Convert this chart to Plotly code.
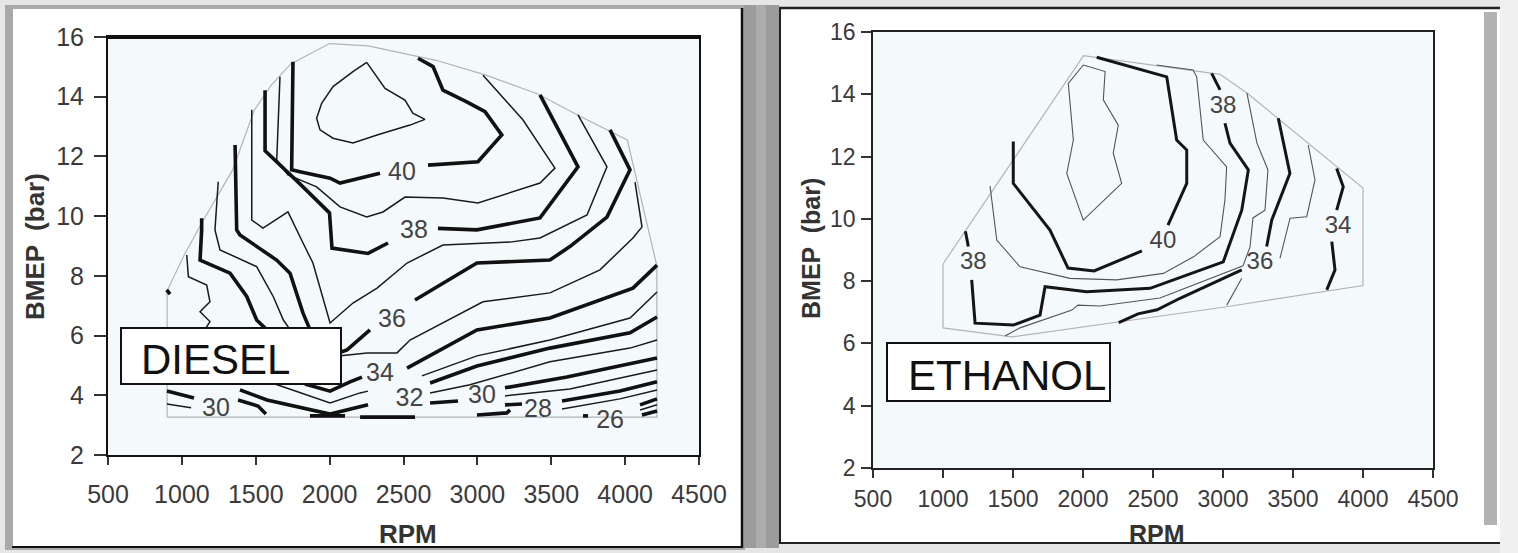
import plotly.graph_objects as go

W, H = 1518, 553
def px(x): return x / W
def py(y): return 1 - y / H

FONT = "Liberation Sans, Arial, sans-serif"

# ---------------- DIESEL (left) : contour polylines, (rpm, bmep) ----------------
diesel_envelope = [(900,3.27),(900,7.50),(1015,8.69),(1146,9.87),(1343,11.54),(1491,13.56),(1605,14.39),
                   (1737,15.10),(1999,15.78),(2261,15.70),(2720,15.22),(3048,14.74),(3409,14.09),(3704,13.32),
                   (4015,12.55),(4130,10.11),(4215,8.33),(4215,3.27),(900,3.27)]
d41 = [(2251,15.15),(2375,14.28),(2510,13.89),(2563,13.45),(2645,13.24),(2544,13.05),(2321,12.72),(2158,12.45),
       (2023,12.61),(1935,12.89),(1912,13.28),(1946,13.78),(2023,14.34),(2158,14.84),(2251,15.15)]
d40 = [(1752,15.17),(1743,11.55),(1799,11.49),(2003,11.27),(2070,11.11),(2341,11.44),None,
       (2666,11.71),(3004,11.82),(3165,12.72),(3052,13.50),(2928,13.83),(2767,14.22),(2700,15.01),(2598,15.29)]
d39 = [(1664,14.67),(1642,11.88),(1718,11.38),(1912,10.98),(2070,10.31),(2251,9.97),(2361,10.14),(2510,10.64),
       (2767,10.61),(3004,10.44),(3424,11.11),(3525,11.61),(3309,13.22),(3038,14.72)]
d38 = [(1563,14.22),(1563,12.19),(1799,11.08),(1999,10.11),(2016,8.93),(2260,8.75),(2395,9.10),None,
       (2733,9.59),(2997,9.54),(3424,9.94),(3681,11.65),(3424,14.06)]
d37 = [(1473,13.56),(1473,9.87),(1549,9.60),(1718,10.14),(1820,9.10),(1887,8.43),(2003,6.42),(2158,7.09),
       (2321,7.59),(2524,8.43),(2767,9.03),(3221,9.13),(3424,9.27),(3742,10.04),(3877,11.65),(3681,13.39)]
d36 = [(1360,12.38),(1371,9.54),(1393,9.37),(1641,8.53),(1732,8.09),(1820,6.75),(1867,6.20),None,
       (2077,5.45),(2118,5.52),(2273,6.19),None,
       (2578,7.19),(2997,8.43),(3491,8.53),(3626,8.98),(3877,9.97),(4033,11.55),(3898,12.89)]
d35 = [(1246,11.15),(1224,9.54),(1258,8.87),(1506,8.31),(1619,7.30),(1687,6.52),(1732,6.20),None,
       (2077,5.32),(2253,5.42),(2456,5.42),(2544,5.85),(3038,7.13),(3491,7.43),(3830,8.20),(4053,9.27),
       (4114,9.64),(4067,11.14)]
d34 = [(1134,9.93),(1134,9.54),(1123,8.53),(1326,8.09),(1439,7.31),(1506,6.52),(1574,6.20),None,
       (1833,4.38),(2003,4.14),(2138,4.45),(2219,4.61),None,
       (2524,4.91),(2997,6.19),(3491,6.59),(4053,7.59),(4216,8.36)]
d33 = [(1033,8.70),(1044,7.97),(1168,7.69),(1190,7.13),(1123,6.80),(1190,6.47),(1156,6.20),None,
       (1630,4.38),(2003,3.74),(2206,4.08),(2260,4.14),None,
       (2625,4.65),(2997,5.32),(3491,5.85),(4033,6.59),(4216,7.46)]
d32 = [(897,7.53),(920,7.39),None,(1393,4.18),(1576,3.84),(2003,3.37),(2260,3.68),None,
       (2680,4.41),(2997,4.98),(3491,5.58),(4033,6.09),(4216,6.62)]
d31 = [(899,3.71),(1062,3.58),None,(2680,4.08),(2950,4.35),(3491,5.12),(4033,5.58),(4216,5.85)]
d30 = [(899,4.14),(1082,3.91),None,(1380,3.84),(1515,3.64),(1569,3.37),None,
       (2680,3.74),(2869,3.81),None,(3187,4.25),(3606,4.61),(4216,5.25)]
d29 = [(3187,3.98),(3626,4.21),(4216,4.85)]
d28 = [(3187,3.68),(3302,3.71),None,(3573,3.81),(3965,4.14),(4216,4.45)]
d27 = [(3573,3.54),(3965,3.88),(4216,4.18)]
d26 = [(3715,3.31),(3749,3.31),None,(4101,3.68),(4216,3.88)]
d25 = [(4101,3.51),(4216,3.68)]
d24 = [(4114,3.34),(4216,3.47)]
d_bottom = [(1867,3.31),(2104,3.31),None,(2206,3.27),(2578,3.27),None,(2997,3.34),(3200,3.41),(3221,3.51)]

diesel_thick = [d40, d38, d36, d34, d32, d30, d28, d26, d24, d_bottom]
diesel_thin = [d41, d39, d37, d35, d33, d31, d29, d27, d25]

diesel_label_text = ["40", "38", "36", "34", "32", "30", "30", "28", "26"]
diesel_label_rpm = [2490, 2571, 2422, 2341, 2540, 1231, 3031, 3410, 3898]
diesel_label_bmep = [11.41, 9.47, 6.49, 4.70, 3.84, 3.51, 3.94, 3.47, 3.11]

# ---------------- ETHANOL (right) ----------------
ethanol_envelope = [(1000,8.55),(1000,6.50),(1493,6.21),(3014,7.17),(4000,7.86),(4000,10.99),(3171,14.04),
                    (2979,14.64),(2004,15.24),(1000,8.55)]
e41 = [(2002,14.94),(2158,14.73),(2145,13.82),(2252,13.01),(2216,12.11),(2276,11.14),(2002,9.96),(1884,11.46),
       (1931,12.53),(1895,14.35),(2002,14.94)]
e40 = [(1502,12.48),(1502,11.14),(1764,9.64),(1893,8.42),(2079,8.33),(2421,8.97),None,
       (2607,9.80),(2741,11.14),(2741,12.21),(2669,12.53),(2598,14.56),(2098,15.19)]
e39 = [(1336,11.05),(1384,9.32),(1550,8.46),(1907,8.09),(2241,8.04),(2574,8.25),(2789,8.78),(2979,9.43),
       (3014,10.61),(3026,11.67),(2859,12.53),(2812,14.56),(2786,14.78),(2526,14.94)]
e38 = [(1160,9.60),(1181,9.11),None,(1205,8.04),(1229,6.65),(1502,6.59),(1693,6.91),(1729,7.82),(2026,7.66),
       (2479,7.77),(3002,8.62),(3134,10.28),(3181,11.57),(3050,12.43),(3014,13.07),None,(2979,14.14),(2919,14.67)]
e37 = [(3171,14.04),(3242,12.44),(3321,11.57),(3300,10.28),(3214,10.03),(3193,9.10),(3143,8.49),(2550,7.46),
       (2121,7.20),(1964,7.23),(1921,7.07),(1550,6.50),(1443,6.24)]
e36 = [(2255,6.67),(2393,6.95),(2529,7.08),(2693,7.45),(3134,8.36),None,(3312,9.11),(3348,9.96),(3478,11.46),
       (3395,13.23)]
e35 = [(3609,12.37),(3657,11.25),(3598,10.07),(3479,10.02),(3407,8.73),None,(3134,8.09),(3027,7.23)]
e34 = [(3812,11.62),(3859,11.03),(3812,10.28),None,(3777,9.27),(3800,8.36),(3741,7.72)]

ethanol_thick = [e40, e38, e36, e34]
ethanol_thin = [e41, e39, e37, e35]

ethanol_label_text = ["38", "40", "38", "36", "34"]
ethanol_label_rpm = [1216, 2571, 3000, 3264, 3822]
ethanol_label_bmep = [8.58, 9.26, 13.59, 8.58, 9.74]

rpm_ticks = [500, 1000, 1500, 2000, 2500, 3000, 3500, 4000, 4500]
bmep_ticks = [2, 4, 6, 8, 10, 12, 14, 16]

# ---------------- figure ----------------
fig = go.Figure()

def add_line(pts, xa, ya, width, color):
    fig.add_trace(go.Scatter(
        x=[p[0] if p else None for p in pts],
        y=[p[1] if p else None for p in pts],
        mode="lines", line=dict(width=width, color=color),
        xaxis=xa, yaxis=ya, showlegend=False, hoverinfo="skip"))

add_line(diesel_envelope, "x", "y", 1.2, "#b4b4b4")
for c in diesel_thin:
    add_line(c, "x", "y", 1.5, "#1a1a1a")
for c in diesel_thick:
    add_line(c, "x", "y", 3.6, "#111111")
fig.add_trace(go.Scatter(x=diesel_label_rpm, y=diesel_label_bmep, text=diesel_label_text, mode="text",
                         textfont=dict(family=FONT, size=25, color="#444444"), xaxis="x", yaxis="y",
                         showlegend=False, hoverinfo="skip"))

add_line(ethanol_envelope, "x2", "y2", 1.2, "#b4b4b4")
for c in ethanol_thin:
    add_line(c, "x2", "y2", 1.1, "#555555")
for c in ethanol_thick:
    add_line(c, "x2", "y2", 3.0, "#151515")
fig.add_trace(go.Scatter(x=ethanol_label_rpm, y=ethanol_label_bmep, text=ethanol_label_text, mode="text",
                         textfont=dict(family=FONT, size=24, color="#444444"), xaxis="x2", yaxis="y2",
                         showlegend=False, hoverinfo="skip"))

def xax(domain, size, lw, lc, standoff):
    return dict(domain=domain, range=[500, 4500], tickvals=rpm_ticks, ticks="outside", ticklen=8,
                tickwidth=1.5, tickcolor="#333", showgrid=False, zeroline=False, showline=True,
                mirror=True, linewidth=lw, linecolor=lc, automargin=False, fixedrange=True,
                tickfont=dict(family=FONT, size=size, color="#3a3a3a"), ticklabelstandoff=standoff)

def yax(domain, size, lw, lc, ticklen, standoff):
    return dict(domain=domain, range=[2, 16], tickvals=bmep_ticks, ticks="outside", ticklen=ticklen,
                tickwidth=1.5, tickcolor="#333", showgrid=False, zeroline=False, showline=True,
                mirror=True, linewidth=lw, linecolor=lc, automargin=False, fixedrange=True,
                tickfont=dict(family=FONT, size=size, color="#3a3a3a"), ticklabelstandoff=standoff)

L_X = [px(108), px(699)]; L_Y = [py(455), py(37)]
R_X = [px(873), px(1433)]; R_Y = [py(468), py(32)]

shapes = []
def rect(x0, y0, x1, y1, fill, layer="below", line=None):
    d = dict(type="rect", xref="paper", yref="paper", x0=px(x0), x1=px(x1), y0=py(y1), y1=py(y0),
             fillcolor=fill, layer=layer, line=dict(width=0))
    if line:
        d["line"] = line
    shapes.append(d)

def hline(x0, x1, y, w, c, layer="below"):
    shapes.append(dict(type="line", xref="paper", yref="paper", x0=px(x0), x1=px(x1), y0=py(y), y1=py(y),
                       line=dict(width=w, color=c), layer=layer))

def vline(x, y0, y1, w, c, layer="below"):
    shapes.append(dict(type="line", xref="paper", yref="paper", x0=px(x), x1=px(x), y0=py(y0), y1=py(y1),
                       line=dict(width=w, color=c), layer=layer))

# page background pieces
rect(5, 5, 745, 550, "#a9a9a9")
rect(13, 9, 742, 547, "#ffffff")
vline(742, 8, 548, 2.5, "#111")
hline(12, 743, 547, 2, "#111")
rect(744, 5, 779, 548, "#9c9c9c")
rect(756, 5, 766, 548, "#acacac")
rect(779, 7, 1500, 544, "#ffffff")
hline(779, 1500, 8, 2.5, "#222")
vline(780, 7, 544, 2, "#222")
hline(779, 1500, 543, 2, "#222")
rect(1484, 12, 1497, 525, "#b3b3b3")
rect(1500, 0, 1518, 553, "#f0f0f0")

# plot area backgrounds
for xr, yr in (("x", "y"), ("x2", "y2")):
    shapes.append(dict(type="rect", xref=f"{xr} domain", yref=f"{yr} domain", x0=0, x1=1, y0=0, y1=1,
                       fillcolor="#f4fafc", line=dict(width=0), layer="below"))
# thick top frame of left plot
shapes.append(dict(type="line", xref="x domain", yref="y domain", x0=0, x1=1, y0=1, y1=1,
                   line=dict(width=4, color="#111"), layer="above"))

# label boxes
rect(121, 328, 341, 384, "#ffffff", layer="above", line=dict(width=2, color="#111"))
rect(887, 343, 1110, 401, "#ffffff", layer="above", line=dict(width=2, color="#111"))

def ann(text, x, y, size, angle=0, xanchor="center", color="#333"):
    return dict(text=text, x=px(x), y=py(y), xref="paper", yref="paper", xanchor=xanchor, yanchor="middle",
                textangle=angle, showarrow=False, font=dict(family=FONT, size=size, color=color))

annotations = [
    ann("DIESEL", 139, 359, 42, xanchor="left", color="#111"),
    ann("ETHANOL", 906, 375, 42, xanchor="left", color="#111"),
    ann("<b>BMEP  (bar)</b>", 35, 247, 26, angle=-90),
    ann("<b>RPM</b>", 408, 534, 26),
    ann("<b>BMEP  (bar)</b>", 811, 248, 25, angle=-90),
    ann("<b>RPM</b>", 1157, 534, 25),
]

fig.update_layout(
    template="none",
    width=W, height=H, margin=dict(l=0, r=0, t=0, b=0, pad=0),
    paper_bgcolor="#e6e6e6", plot_bgcolor="rgba(0,0,0,0)",
    xaxis=dict(xax(L_X, 25, 2, "#111", 8), anchor="y"),
    yaxis=dict(yax(L_Y, 25, 2, "#111", 12, 5), anchor="x"),
    xaxis2=dict(xax(R_X, 23, 1.8, "#222", 1), anchor="y2"),
    yaxis2=dict(yax(R_Y, 23, 1.8, "#222", 10, 1), anchor="x2"),
    shapes=shapes, annotations=annotations, showlegend=False,
)

fig.write_html("out.html")
